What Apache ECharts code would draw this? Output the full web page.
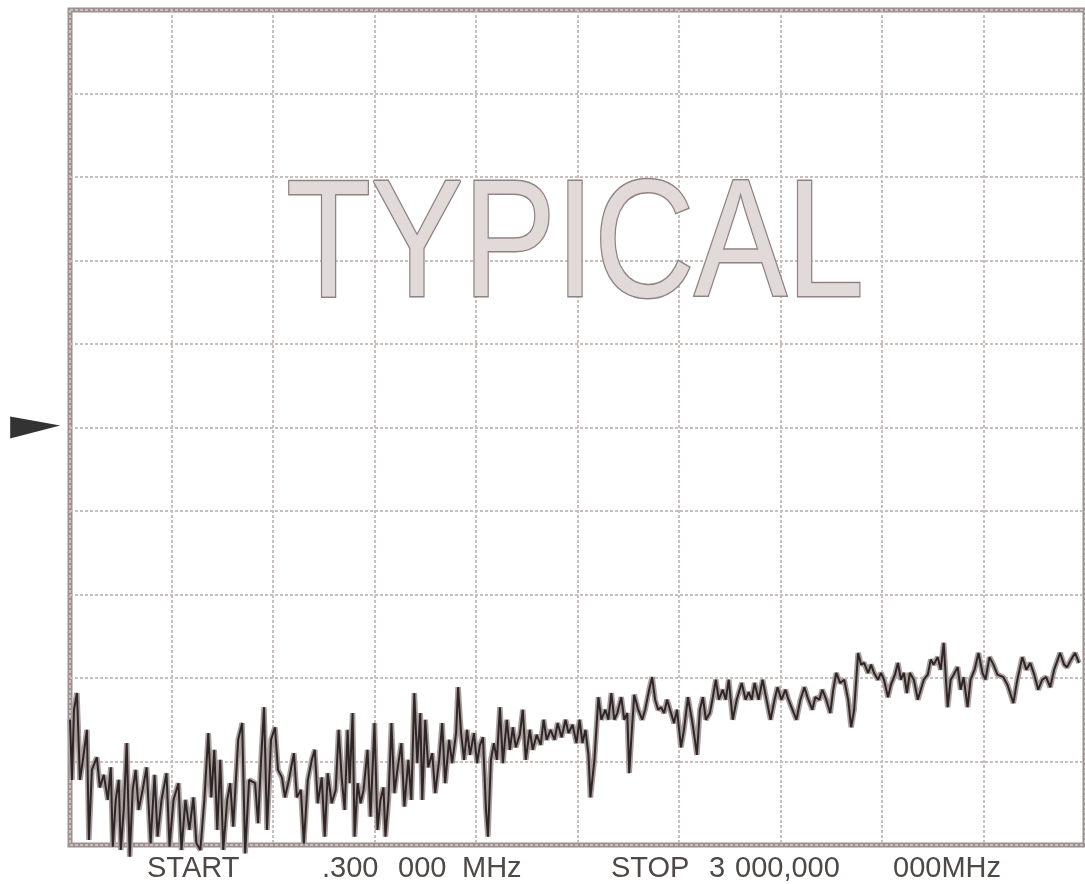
<!DOCTYPE html>
<html>
<head>
<meta charset="utf-8">
<script src="https://cdn.jsdelivr.net/npm/echarts@6/dist/echarts.min.js"></script>
<style>html,body{margin:0;padding:0;background:#fff;}#c{width:1085px;height:884px;}</style>
</head>
<body>
<div id="c"></div>
<script>
// Sweep point index (0 .. 1020 across the 10 horizontal divisions)
const sweepPoint = [
0,2,4,7,10,13,17,19,22,27,30,34,38,41,43,46,49,51,54,57,60,63,66,69,73,77,81,85,88,92,97,100,104,109,112,116,120,124,127,131,135,139,142,145,148,151,154,158,161,164,169,173,176,180,186,189,192,195,198,202,206,209,213,216,220,225,228,232,235,239,243,246,249,253,
256,259,263,267,270,273,276,279,281,284,286,289,292,295,299,302,306,309,312,315,317,320,323,326,329,333,336,340,343,346,349,352,354,357,360,364,367,371,374,377,381,384,388,390,393,396,399,402,406,409,412,415,418,420,423,426,429,432,435,439,442,445,448,452,455,458,462,465,469,473,476,479,483,487,490,494,498,501,505,509,512,
515,518,521,523,527,531,534,538,541,544,547,550,554,557,560,562,564,567,571,575,578,582,585,588,591,594,597,600,603,607,610,614,617,621,625,628,630,633,636,639,643,646,649,652,656,659,662,666,670,675,679,682,685,688,692,696,700,704,708,711,715,719,722,726,730,734,738,742,746,749,753,756,760,764,767,
770,774,778,782,785,788,792,795,798,802,805,808,812,815,818,822,825,829,832,835,838,841,844,848,852,855,858,862,865,868,872,875,878,882,885,888,892,895,898,902,905,909,913,917,920,924,928,932,938,942,948,952,957,961,965,969,973,977,981,985,989,995,999,1002,1006,1010,1014
];
// Trace level, dB (reference level at top, 10 dB/div)
const levelDb = [
-85.0,-92.2,-83.8,-81.8,-92.2,-89.8,-86.2,-99.4,-91.0,-89.5,-93.1,-91.6,-94.6,-90.7,-100.2,-94.6,-92.2,-100.6,-95.8,-87.8,-101.4,-93.4,-91.0,-95.8,-93.4,-90.7,-99.8,-91.6,-99.0,-94.6,-91.4,-100.2,-94.6,-92.6,-100.6,-94.6,-98.2,-94.3,-99.8,-100.6,-94.6,-86.6,-94.3,-88.6,-98.2,-89.8,-100.6,-94.6,-92.6,-97.8,-87.4,-85.4,-101.0,-92.2,-92.6,-97.4,-89.8,-83.5,-98.2,-87.4,-85.9,-91.0,-91.9,-94.3,-92.2,-89.0,-94.3,-93.4,-99.8,-92.2,-89.8,-88.6,-95.0,-91.9,
-99.0,-91.4,-95.0,-93.4,-86.2,-91.9,-95.8,-86.2,-92.6,-84.2,-99.0,-92.6,-95.0,-93.4,-88.6,-96.6,-85.4,-98.2,-94.6,-93.1,-99.0,-94.6,-85.4,-93.8,-91.0,-87.8,-95.4,-89.8,-94.6,-81.8,-90.2,-84.2,-94.6,-85.0,-90.7,-89.0,-93.8,-89.8,-85.4,-92.6,-87.4,-90.2,-86.6,-81.1,-86.6,-89.8,-86.2,-89.2,-86.6,-90.2,-88.0,-87.1,-95.8,-99.0,-89.8,-87.8,-89.8,-83.5,-90.2,-85.0,-88.6,-85.9,-88.3,-86.8,-83.8,-89.8,-86.2,-88.6,-86.8,-88.0,-85.0,-87.4,-86.2,-87.4,-85.4,-87.1,-85.0,-86.6,-85.6,-87.8,-85.0,
-87.8,-86.2,-89.2,-94.3,-89.8,-82.3,-85.0,-83.8,-85.0,-81.8,-85.0,-84.2,-82.3,-85.0,-84.2,-91.4,-87.4,-82.0,-83.8,-85.0,-83.8,-81.4,-79.9,-82.6,-83.8,-83.5,-84.2,-82.6,-83.8,-85.4,-83.8,-88.3,-86.2,-82.3,-85.0,-87.4,-89.2,-83.8,-82.3,-85.0,-84.2,-82.3,-80.2,-82.6,-81.4,-82.6,-80.2,-85.0,-82.6,-80.6,-82.6,-81.7,-82.6,-80.6,-82.6,-80.2,-82.6,-85.0,-82.6,-81.1,-82.6,-81.4,-82.6,-83.8,-85.0,-82.6,-81.1,-82.6,-83.8,-82.3,-82.6,-81.4,-82.6,-84.2,-81.4,
-79.4,-80.6,-80.2,-82.6,-85.9,-83.8,-77.0,-78.4,-78.2,-79.4,-78.4,-79.4,-80.2,-79.4,-80.2,-82.3,-80.8,-79.6,-78.2,-80.2,-79.4,-81.8,-79.4,-80.2,-82.6,-81.4,-80.2,-79.6,-77.8,-78.4,-77.5,-79.0,-75.8,-83.5,-80.2,-79.6,-78.7,-81.4,-79.9,-83.5,-80.2,-79.0,-77.0,-79.4,-80.2,-77.5,-78.4,-79.6,-79.9,-80.8,-83.0,-80.2,-77.5,-79.0,-78.2,-79.6,-81.4,-80.2,-79.9,-81.1,-79.0,-77.0,-78.4,-78.7,-77.8,-77.0,-78.2
];
const refLevelDb = -50;
const refMarkerSweep = -35;
const labelStart = "START";
const labelStartFreq = [".300", "000", "MHz"];
const labelStop = ["STOP", "3", "000,000", "000MHz"];
const watermark = "TYPICAL";

const traceData = sweepPoint.map((s, i) => [s, levelDb[i]]);

const chart = echarts.init(document.getElementById('c'), null, {renderer: 'canvas'});
const txt = (s, x) => ({
  type: 'text', left: x, top: 854,
  style: {text: s, fill: '#4e4846', font: '29px "Liberation Sans", Arial, sans-serif'}
});
chart.setOption({
  animation: false,
  backgroundColor: '#ffffff',
  grid: {left: 70, top: 10, width: 1020, height: 835, show: true,
         borderColor: '#9c9190', borderWidth: 5, backgroundColor: 'transparent'},
  xAxis: {type: 'value', min: 0, max: 1020, interval: 102,
          axisLine: {show: false}, axisTick: {show: false}, axisLabel: {show: false},
          splitLine: {show: true, lineStyle: {color: '#c9bfbd', width: 2, type: [3, 2]}}},
  yAxis: {type: 'value', min: -100, max: 0, interval: 10,
          axisLine: {show: false}, axisTick: {show: false}, axisLabel: {show: false},
          splitLine: {show: true, lineStyle: {color: '#c9bfbd', width: 2, type: [3, 2]}}},
  graphic: [
    {type: 'text', x: 575, y: 250, scaleX: 0.83, z: 1,
     style: {text: watermark, textAlign: 'center', textVerticalAlign: 'middle',
             font: '167px "Liberation Sans", Arial, sans-serif',
             fill: '#e2dad8', stroke: '#8f8381', lineWidth: 3}},
    txt(labelStart, 147),
    txt(labelStartFreq[0], 322), txt(labelStartFreq[1], 398), txt(labelStartFreq[2], 462),
    txt(labelStop[0], 611), txt(labelStop[1], 709), txt(labelStop[2], 735), txt(labelStop[3], 893)
  ],
  series: [
    {type: 'line', data: traceData, showSymbol: false, clip: false, z: 3,
     lineStyle: {color: '#a99f9d', width: 5.5}},
    {type: 'line', data: traceData, showSymbol: false, clip: false, z: 4,
     lineStyle: {color: '#2e2626', width: 2}},
    {type: 'scatter', data: [[refMarkerSweep, refLevelDb]], clip: false, z: 5,
     symbol: 'path://M0,0 L50,9 L0,22 Z', symbolSize: [50, 22],
     itemStyle: {color: '#000000'}}
  ]
});
</script>
</body>
</html>
